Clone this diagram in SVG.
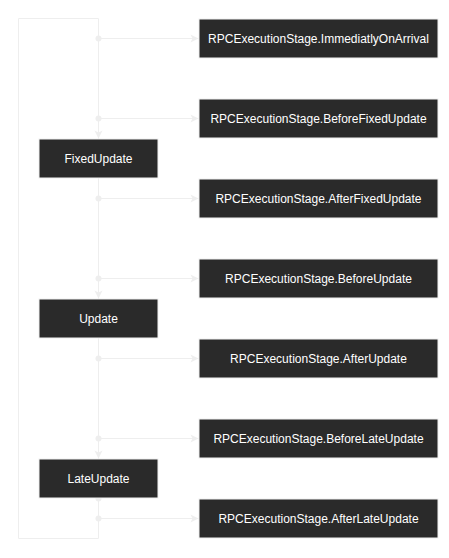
<svg xmlns="http://www.w3.org/2000/svg" width="449" height="558" viewBox="0 0 449 558">
<style>
.n rect{fill:#2a2a2a;stroke:#f0f0f0;stroke-width:1}
.n text{fill:#ffffff;font-family:"Liberation Sans",Arial,sans-serif;font-size:12px;text-anchor:middle}
.e{fill:none;stroke:#eeeeee;stroke-width:1}
.d{fill:#eeeeee}
</style>
<defs>
<marker id="a" markerWidth="10" markerHeight="10" refX="9" refY="5" orient="auto" markerUnits="userSpaceOnUse">
<path d="M1,1 L9,5 L1,9 L3,5 Z" fill="#eeeeee"/>
</marker>
</defs>
<rect width="449" height="558" fill="#ffffff"/>
<g id="connectors">
<path class="e" d="M98.5 18.5 L18.5 18.5 L18.5 538.5 L98.5 538.5"/>
<path class="e" d="M98.5 18.5 L98.5 538.5"/>
<path class="e" d="M98.5 118.5 L98.5 138.5" marker-end="url(#a)"/>
<path class="e" d="M98.5 278.5 L98.5 298.5" marker-end="url(#a)"/>
<path class="e" d="M98.5 438.5 L98.5 458.5" marker-end="url(#a)"/>
<path class="e" d="M98.5 38.5 L198.5 38.5" marker-end="url(#a)"/>
<path class="e" d="M98.5 118.5 L198.5 118.5" marker-end="url(#a)"/>
<path class="e" d="M98.5 198.5 L198.5 198.5" marker-end="url(#a)"/>
<path class="e" d="M98.5 278.5 L198.5 278.5" marker-end="url(#a)"/>
<path class="e" d="M98.5 358.5 L198.5 358.5" marker-end="url(#a)"/>
<path class="e" d="M98.5 438.5 L198.5 438.5" marker-end="url(#a)"/>
<path class="e" d="M98.5 518.5 L198.5 518.5" marker-end="url(#a)"/>
<circle class="d" cx="98.5" cy="38.5" r="3"/>
<circle class="d" cx="98.5" cy="118.5" r="3"/>
<circle class="d" cx="98.5" cy="198.5" r="3"/>
<circle class="d" cx="98.5" cy="278.5" r="3"/>
<circle class="d" cx="98.5" cy="358.5" r="3"/>
<circle class="d" cx="98.5" cy="438.5" r="3"/>
<circle class="d" cx="98.5" cy="518.5" r="3"/>
<circle class="d" cx="98.5" cy="498.5" r="3"/>
</g>
<g id="fixedupdate" class="n"><rect x="39" y="139" width="119" height="39"/><text x="98.5" y="162.5">FixedUpdate</text></g>
<g id="update" class="n"><rect x="39" y="299" width="119" height="39"/><text x="98.5" y="322.5">Update</text></g>
<g id="lateupdate" class="n"><rect x="39" y="459" width="119" height="39"/><text x="98.5" y="482.5">LateUpdate</text></g>
<g id="immediatly" class="n"><rect x="199" y="19" width="239" height="39"/><text x="318.5" y="42.5">RPCExecutionStage.ImmediatlyOnArrival</text></g>
<g id="beforefixed" class="n"><rect x="199" y="99" width="239" height="39"/><text x="318.5" y="122.5">RPCExecutionStage.BeforeFixedUpdate</text></g>
<g id="afterfixed" class="n"><rect x="199" y="179" width="239" height="39"/><text x="318.5" y="202.5">RPCExecutionStage.AfterFixedUpdate</text></g>
<g id="beforeupdate" class="n"><rect x="199" y="259" width="239" height="39"/><text x="318.5" y="282.5">RPCExecutionStage.BeforeUpdate</text></g>
<g id="afterupdate" class="n"><rect x="199" y="339" width="239" height="39"/><text x="318.5" y="362.5">RPCExecutionStage.AfterUpdate</text></g>
<g id="beforelate" class="n"><rect x="199" y="419" width="239" height="39"/><text x="318.5" y="442.5">RPCExecutionStage.BeforeLateUpdate</text></g>
<g id="afterlate" class="n"><rect x="199" y="499" width="239" height="39"/><text x="318.5" y="522.5">RPCExecutionStage.AfterLateUpdate</text></g>
</svg>
